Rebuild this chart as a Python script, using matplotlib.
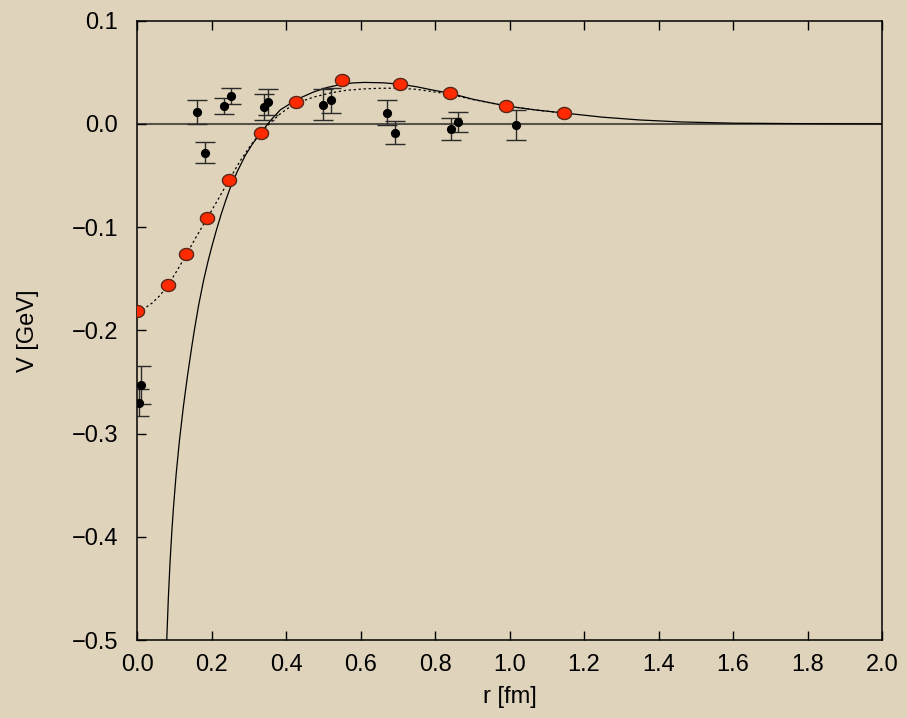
import numpy as np
import matplotlib
matplotlib.use("Agg")
import matplotlib.pyplot as plt
from matplotlib.ticker import FuncFormatter

# lattice data with errors (black points)
r_lat = [0.005, 0.010, 0.160, 0.181, 0.232, 0.251, 0.341, 0.350, 0.500, 0.520,
         0.670, 0.692, 0.842, 0.862, 1.017]
v_lat = [-0.270, -0.253, 0.0114, -0.0278, 0.0177, 0.0271, 0.0165, 0.0210, 0.0187, 0.0230,
         0.0107, -0.0084, -0.0048, 0.0019, -0.0013]
e_lat = [0.013, 0.0184, 0.0114, 0.0102, 0.0077, 0.0077, 0.0125, 0.0124, 0.0147, 0.0120,
         0.0121, 0.0113, 0.0106, 0.0100, 0.0143]

# model values (red points)
r_mod = [0.000, 0.083, 0.131, 0.188, 0.247, 0.331, 0.427, 0.551, 0.705, 0.839, 0.990, 1.146]
v_mod = [-0.181, -0.156, -0.126, -0.091, -0.054, -0.0087, 0.021, 0.0426, 0.0387, 0.030, 0.0174, 0.0106]

# fit curve (solid)
r_fit = [0.0791, 0.0835, 0.088, 0.0926, 0.0969, 0.1042, 0.1131, 0.1238, 0.1346, 0.1464,
         0.1534, 0.165, 0.178, 0.190, 0.200, 0.212, 0.225, 0.237, 0.248, 0.268, 0.290, 0.310,
         0.331, 0.357, 0.384, 0.430, 0.474, 0.510, 0.550, 0.580, 0.610, 0.660, 0.705, 0.750,
         0.790, 0.840, 0.900, 0.990, 1.070, 1.150, 1.250, 1.350, 1.460, 1.600, 1.800, 2.000]
v_fit = [-0.4995, -0.4577, -0.4239, -0.3954, -0.3726, -0.3397, -0.3068, -0.2736, -0.2444, -0.2155,
         -0.1994, -0.1750, -0.1516, -0.1330, -0.1190, -0.1034, -0.0878, -0.0746, -0.0634, -0.0465,
         -0.0305, -0.0190, -0.0090, 0.0030, 0.0136, 0.0240, 0.0310, 0.0353, 0.0385, 0.0397, 0.0402,
         0.0398, 0.0385, 0.0360, 0.0330, 0.0297, 0.0240, 0.0174, 0.0135, 0.0104, 0.0065, 0.0038,
         0.0019, 0.0007, 0.0002, 0.0]

# smooth curve through model values (dotted)
r_dot = [0.000, 0.020, 0.040, 0.060, 0.083, 0.106, 0.131, 0.155, 0.188, 0.218, 0.247,
         0.276, 0.305, 0.331, 0.357, 0.384, 0.410, 0.438, 0.474, 0.519, 0.560, 0.608, 0.650,
         0.698, 0.750, 0.788, 0.839, 0.900, 0.990, 1.070, 1.146]
v_dot = [-0.181, -0.1785, -0.1735, -0.1665, -0.156, -0.1425, -0.127, -0.1115, -0.091, -0.0725,
         -0.054, -0.036, -0.0205, -0.0088, 0.001, 0.0098, 0.0165, 0.0215, 0.026, 0.030, 0.0325,
         0.0339, 0.0345, 0.0346, 0.0335, 0.0315, 0.0288, 0.0237, 0.0174, 0.0135, 0.0104]

bg = "#dfd3bb"
plt.rcParams["font.family"] = ["Liberation Sans", "DejaVu Sans"]


def fmt(v, pos):
    s = "%.1f" % v
    if s == "-0.0":
        s = "0.0"
    return s.replace("-", "\u2212")


fig = plt.figure(figsize=(9.07, 7.18), dpi=100, facecolor=bg)
ax = fig.add_axes([0.1514, 0.1086, 0.8210, 0.8626])
ax.set_facecolor(bg)

ax.axhline(0.0, color="#57524a", lw=1.5, zorder=1)
ax.plot(r_fit, v_fit, color="black", lw=0.9, zorder=2)
ax.plot(r_dot, v_dot, color="black", lw=0.9, ls=(0, (1.8, 2.2)), zorder=2)

ax.errorbar(r_lat, v_lat, yerr=e_lat, fmt="o", color="black", ecolor="#2b2b2b",
            ms=5.6, elinewidth=1.0, capsize=7.5, capthick=1.0, zorder=3)

# slightly flattened round marker for the model values
t = np.linspace(0, 2 * np.pi, 41)
ellipse = np.column_stack([np.cos(t), 0.85 * np.sin(t)])
ax.plot(r_mod, v_mod, ls="none", marker=ellipse, ms=10.2, mfc="#ff2a00",
        mec="#5a2718", mew=1.0, zorder=4)

ax.set_xlim(0.0, 2.0)
ax.set_ylim(-0.5, 0.1)
ax.set_xticks(np.arange(0, 2.01, 0.2))
ax.set_yticks(np.arange(-0.5, 0.101, 0.1))
ax.xaxis.set_major_formatter(FuncFormatter(fmt))
ax.yaxis.set_major_formatter(FuncFormatter(fmt))
ax.tick_params(axis="x", direction="in", top=True, length=6.5, width=1.0,
               labelsize=17, pad=10)
ax.tick_params(axis="y", direction="in", right=False, length=6.5, width=1.0,
               labelsize=17, pad=14)
for s in ax.spines.values():
    s.set_linewidth(1.1)

ax.set_xlabel("r [fm]", fontsize=17, labelpad=7)
ax.set_ylabel("V [GeV]", fontsize=17, labelpad=23)

fig.savefig("out.png", dpi=100, facecolor=bg)
